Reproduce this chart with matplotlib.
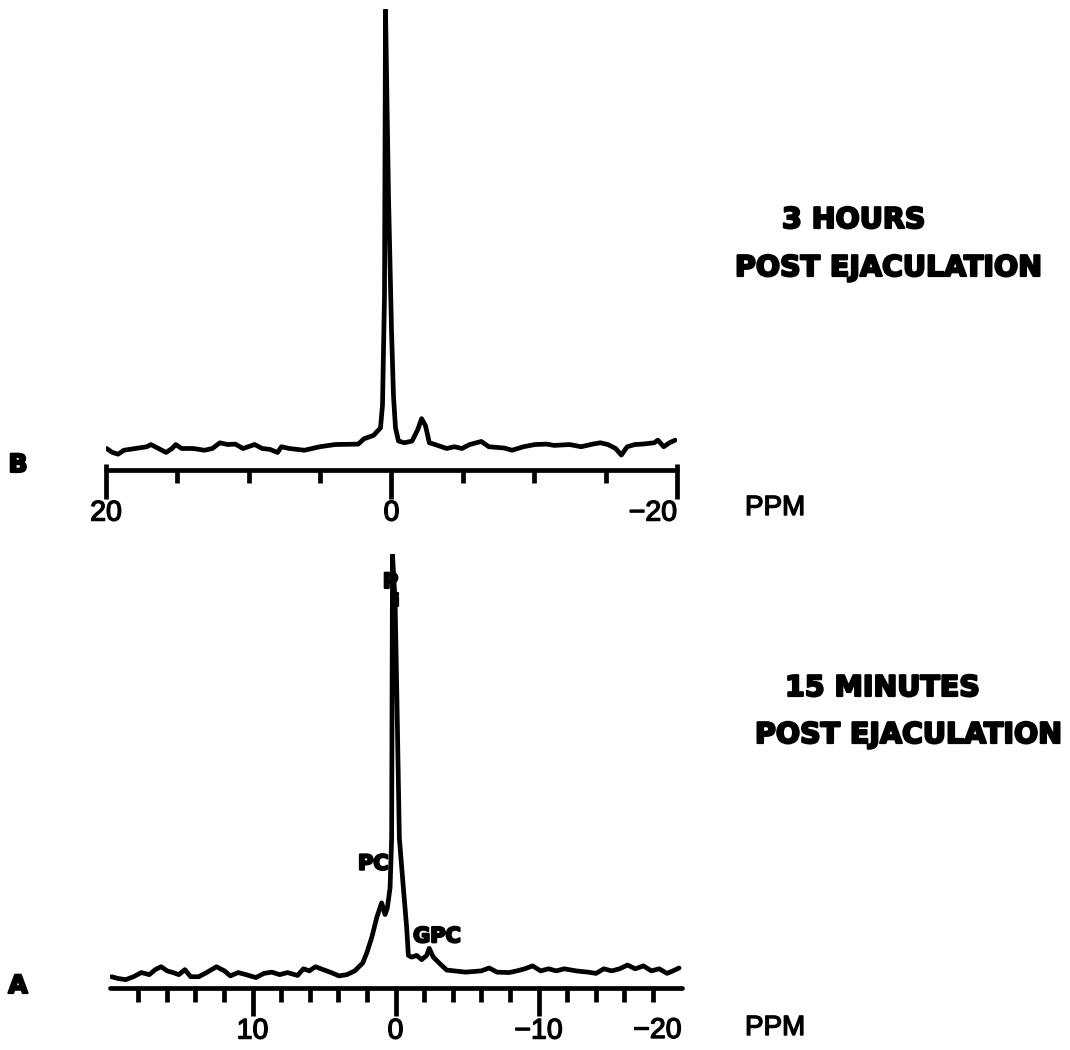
import matplotlib
matplotlib.use("Agg")
import matplotlib.pyplot as plt
import matplotlib.ticker as mticker
import matplotlib.patheffects as pe

# ---- 31P spectrum, 3 hours post ejaculation (panel B) ----
ppm_b = [19.96, 19.55, 19.15, 18.75, 17.94, 17.13, 16.86, 16.32, 15.79, 15.38,
         15.11, 14.71, 13.90, 13.10, 12.55, 12.02, 11.48, 10.94, 10.40, 9.59,
         9.06, 8.52, 7.98, 7.71, 7.17, 6.10, 5.02, 3.95, 2.33, 1.93,
         1.25, 0.77, 0.63, 0.49, 0.42, 0.21, 0.00, -0.14, -0.28, -0.49,
         -0.90, -1.44, -1.84, -2.11, -2.38, -2.65, -3.05, -3.86, -4.40, -4.94,
         -5.48, -6.29, -6.82, -7.90, -8.44, -9.25, -10.05, -10.86, -11.40, -12.48,
         -13.28, -14.09, -14.63, -15.16, -15.70, -16.10, -16.51, -17.05, -17.59, -18.40,
         -18.66, -19.07, -19.47, -19.87]
int_b = [0.1, -0.8, -1.2, -0.3, 0.1, 0.5, 1.0, 0.1, -0.8, 0.1,
         1.0, 0.1, 0.1, -0.3, 0.1, 1.4, 1.0, 1.1, 0.1, 1.0,
         0.1, -0.1, -0.8, 0.5, 0.1, -0.3, 0.5, 1.0, 1.1, 2.3,
         3.1, 4.8, 10.0, 35.0, 100.0, 57.6, 27.0, 12.0, 4.8, 1.8,
         1.4, 1.8, 4.4, 6.9, 5.3, 1.4, 1.0, 0.1, 0.5, 0.1,
         1.0, 1.7, 0.5, 0.2, -0.3, 0.5, 1.0, 1.1, 0.8, 1.0,
         0.5, 1.1, 1.4, 1.0, 0.1, -1.4, 0.5, 1.0, 1.1, 1.4,
         2.0, 0.5, 1.4, 2.0]

# ---- 31P spectrum, 15 minutes post ejaculation (panel A) ----
ppm_a = [19.85, 19.43, 18.87, 18.32, 17.77, 17.22, 16.80, 16.39, 15.97, 15.56,
         15.15, 14.73, 14.32, 13.76, 13.21, 12.52, 11.96, 11.55, 11.00, 10.45,
         9.76, 9.20, 8.65, 8.10, 7.55, 6.85, 6.44, 6.02, 5.60, 5.06,
         4.50, 3.95, 3.40, 2.85, 2.29, 2.01, 1.66, 1.31, 0.97, 0.73,
         0.57, 0.38, 0.27, 0.21, 0.03, -0.10, -0.27, -0.55, -0.78, -0.90,
         -1.13, -1.48, -1.83, -2.18, -2.36, -2.64, -3.11, -3.58, -4.90, -6.00,
         -6.55, -7.10, -7.94, -8.49, -9.04, -9.59, -10.15, -10.70, -11.25, -11.80,
         -12.63, -13.46, -14.02, -14.57, -15.12, -15.67, -16.22, -16.77, -17.34, -17.89,
         -18.44, -18.99, -19.40, -19.83]
int_a = [-1.1, -1.5, -1.8, -1.1, -0.1, -0.6, 0.6, 1.3, 0.3, -0.1,
         -0.6, 0.6, -1.1, -1.1, -0.1, 1.3, 0.3, -0.9, -0.1, -0.6,
         -1.3, -0.3, 0.0, -0.6, -0.1, -0.8, 0.8, 0.3, 1.3, 0.6,
         -0.1, -0.9, -0.6, 0.3, 2.2, 4.6, 8.3, 13.1, 16.6, 13.8,
         15.4, 20.2, 32.1, 100.0, 89.0, 65.3, 32.1, 20.2, 10.7, 4.0,
         3.6, 4.0, 3.0, 4.0, 5.7, 3.6, 2.0, 0.5, 0.0, 0.3,
         1.0, 0.0, -0.1, 0.3, 0.8, 1.5, 0.3, 0.8, 0.3, 0.8,
         0.3, 0.0, -0.3, 0.8, 0.3, 0.8, 1.7, 0.8, 1.5, 0.3,
         0.8, -0.3, 0.3, 1.0]

b_major = [20, 0, -20]
b_major_labels = ["20", "0", "\u221220"]
b_minor = [15, 10, 5, -5, -10, -15]

a_major = [10, 0, -10]
a_major_labels = ["10", "0", "\u221210"]
a_minor = [18, 16, 14, 12, 8, 6, 4, 2, -2, -4, -6, -8, -12, -14, -16, -18]

peak_labels_a = [("PC", 1.55, 26.0), ("GPC", -2.9, 8.6)]

W, H = 1070, 1050
fig = plt.figure(figsize=(W / 100, H / 100), dpi=100)

# heavy, rounded lettering: bold face with a round-joined outline
HEAVY_FX = [pe.withStroke(linewidth=1.6, foreground="black", capstyle="round",
                          joinstyle="round")]
PLAIN_FX = [pe.withStroke(linewidth=1.0, foreground="black", capstyle="round",
                          joinstyle="round")]
HEAVY = dict(family=["DejaVu Sans"], fontweight="bold", path_effects=HEAVY_FX)
PLAIN = dict(family=["Liberation Sans", "DejaVu Sans"], fontweight="normal",
             path_effects=PLAIN_FX)
LW = 3.4


def spectrum_axes(rect, ylim):
    ax = fig.add_axes(rect)
    ax.set_xlim(20, -20)
    ax.set_ylim(*ylim)
    for s in ("top", "left", "right"):
        ax.spines[s].set_visible(False)
    ax.spines["bottom"].set_linewidth(LW)
    ax.spines["bottom"].set_capstyle("round")
    ax.set_yticks([])
    ax.patch.set_alpha(0)
    return ax


def style_ticklabels(ax):
    for t in ax.get_xticklabels():
        t.set_path_effects(PLAIN_FX)


# Panel B
axb = spectrum_axes([106 / W, 1 - 470 / H, 571 / W, 461 / H], (-4.8, 100.2))
axb.plot(ppm_b, int_b, color="black", lw=LW, solid_joinstyle="round",
         solid_capstyle="round")
axb.xaxis.set_major_locator(mticker.FixedLocator(b_major))
axb.xaxis.set_minor_locator(mticker.FixedLocator(b_minor))
axb.set_xticklabels(b_major_labels, fontsize=20.5,
                    family=["Liberation Sans", "DejaVu Sans"])
axb.tick_params(axis="x", which="major", length=21, width=LW, pad=1, direction="out")
axb.tick_params(axis="x", which="minor", length=9, width=LW, direction="out")
axb.get_xticklabels()[-1].set_ha("right")
style_ticklabels(axb)
# end brackets of the scale rise slightly above the axis line
axb.vlines([20, -20], 0, 0.012, transform=axb.get_xaxis_transform(),
           color="black", lw=LW, clip_on=False)

# Panel A
axa = spectrum_axes([109.5 / W, 1 - 988 / H, 572 / W, 434 / H], (-3.8, 100.2))
axa.plot(ppm_a, int_a, color="black", lw=LW, solid_joinstyle="round",
         solid_capstyle="round")
axa.xaxis.set_major_locator(mticker.FixedLocator(a_major))
axa.xaxis.set_minor_locator(mticker.FixedLocator(a_minor))
axa.set_xticklabels(a_major_labels, fontsize=20.5,
                    family=["Liberation Sans", "DejaVu Sans"])
axa.tick_params(axis="x", which="major", length=20, width=LW, pad=2, direction="out")
axa.tick_params(axis="x", which="minor", length=10, width=LW, direction="out")
style_ticklabels(axa)

# Right-aligned end label at -20 for panel A, on the same line as the tick labels
axa.annotate("\u221220", xy=(-20, 0), xycoords=("data", "axes fraction"),
             xytext=(0, -30), textcoords="offset pixels",
             ha="right", va="top", fontsize=20.5, **PLAIN)

# Peak assignments on panel A
for name, x, y in peak_labels_a:
    axa.text(x, y, name, ha="center", va="center", fontsize=15, **HEAVY)
axa.text(0.35, 93.5, "P", ha="center", va="center", fontsize=15, **HEAVY)
axa.text(-0.05, 89.0, "i", ha="center", va="center", fontsize=12, **HEAVY)

# Unit labels
fig.text(745 / W, 1 - 508 / H, "PPM", ha="left", va="center", fontsize=20, **PLAIN)
fig.text(745 / W, 1 - 1028 / H, "PPM", ha="left", va="center", fontsize=20, **PLAIN)

# Panel letters
fig.text(18 / W, 1 - 465 / H, "B", ha="center", va="center", fontsize=18, **HEAVY)
fig.text(18 / W, 1 - 986 / H, "A", ha="center", va="center", fontsize=18, **HEAVY)

# Condition captions
CAP = 20.5
fig.text(782 / W, 1 - 220 / H, "3 HOURS", ha="left", va="center", fontsize=CAP, **HEAVY)
fig.text(735 / W, 1 - 268 / H, "POST EJACULATION", ha="left", va="center",
         fontsize=CAP, **HEAVY)
fig.text(785 / W, 1 - 688 / H, "15 MINUTES", ha="left", va="center", fontsize=CAP, **HEAVY)
fig.text(755 / W, 1 - 735 / H, "POST EJACULATION", ha="left", va="center",
         fontsize=CAP, **HEAVY)

fig.savefig("out.png", dpi=100, facecolor="white")
